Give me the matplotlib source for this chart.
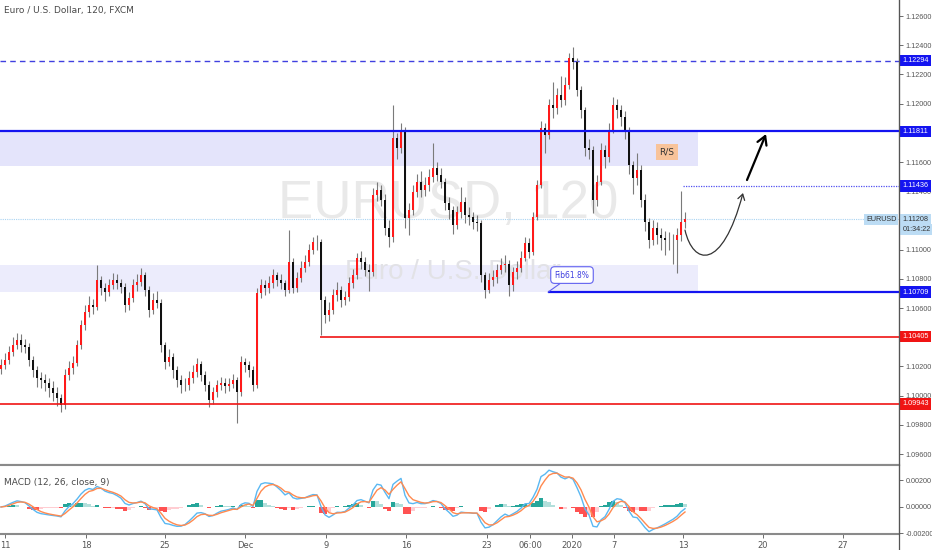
import matplotlib
matplotlib.use('Agg')
import matplotlib.pyplot as plt
import matplotlib.transforms as mtransforms
from matplotlib.patches import Rectangle, FancyArrowPatch
from matplotlib.path import Path
from matplotlib.lines import Line2D
import numpy as np
import pandas as pd

# EURUSD, 6h-ish candles
first_open = 1.10180
closes = [1.10209, 1.10244, 1.10298, 1.10346, 1.10381, 1.10346, 1.10333, 1.10244, 1.10175, 1.10120,
          1.10107, 1.10086, 1.10052, 1.10018, 1.09983, 1.09935, 1.10141, 1.10189, 1.10223, 1.10346,
          1.10483, 1.10572, 1.10620, 1.10607, 1.10792, 1.10737, 1.10709, 1.10757, 1.10792, 1.10771,
          1.10744, 1.10620, 1.10668, 1.10757, 1.10778, 1.10826, 1.10723, 1.10586, 1.10655, 1.10634,
          1.10346, 1.10230, 1.10264, 1.10175, 1.10107, 1.10072, 1.10072, 1.10120, 1.10161, 1.10216,
          1.10141, 1.10072, 1.09970, 1.10024, 1.10072, 1.10086, 1.10066, 1.10079, 1.10107, 1.10024,
          1.10230, 1.10209, 1.10175, 1.10072, 1.10703, 1.10757, 1.10737, 1.10771, 1.10826, 1.10792,
          1.10771, 1.10723, 1.10915, 1.10737, 1.10805, 1.10874, 1.10915, 1.10997, 1.11052, 1.11052,
          1.10655, 1.10552, 1.10586, 1.10689, 1.10723, 1.10655, 1.10675, 1.10771, 1.10826, 1.10942,
          1.10915, 1.10860, 1.10846, 1.11374, 1.11408, 1.11340, 1.11148, 1.11086, 1.11764, 1.11696,
          1.11819, 1.11216, 1.11271, 1.11394, 1.11463, 1.11408, 1.11442, 1.11497, 1.11559, 1.11511,
          1.11463, 1.11319, 1.11271, 1.11168, 1.11257, 1.11326, 1.11237, 1.11223, 1.11189, 1.11182,
          1.10826, 1.10723, 1.10792, 1.10812, 1.10860, 1.10894, 1.10901, 1.10757, 1.10846, 1.10874,
          1.10942, 1.11045, 1.10983, 1.11223, 1.11442, 1.11833, 1.11785, 1.11990, 1.11970, 1.12059,
          1.12025, 1.12127, 1.12312, 1.12285, 1.12093, 1.11956, 1.11696, 1.11682, 1.11340, 1.11463,
          1.11682, 1.11634, 1.11819, 1.11990, 1.11956, 1.11908, 1.11819, 1.11579, 1.11490, 1.11545,
          1.11340, 1.11189, 1.11066, 1.11148, 1.11100, 1.11079, 1.11066, 1.11066, 1.11066, 1.11100,
          1.11189, 1.11209]
highs = [1.10250, 1.10290, 1.10340, 1.10400, 1.10430, 1.10420, 1.10390, 1.10360, 1.10270, 1.10200,
         1.10160, 1.10150, 1.10120, 1.10100, 1.10060, 1.10010, 1.10180, 1.10240, 1.10270, 1.10380,
         1.10520, 1.10620, 1.10680, 1.10660, 1.10894, 1.10820, 1.10770, 1.10800, 1.10840, 1.10830,
         1.10800, 1.10770, 1.10710, 1.10800, 1.10830, 1.10874, 1.10850, 1.10750, 1.10700, 1.10720,
         1.10660, 1.10370, 1.10320, 1.10290, 1.10200, 1.10140, 1.10120, 1.10170, 1.10210, 1.10260,
         1.10240, 1.10170, 1.10100, 1.10060, 1.10110, 1.10130, 1.10120, 1.10120, 1.10150, 1.10130,
         1.10270, 1.10260, 1.10240, 1.10200, 1.10740, 1.10800, 1.10790, 1.10820, 1.10870, 1.10850,
         1.10830, 1.10790, 1.11134, 1.10940, 1.10850, 1.10920, 1.10960, 1.11040, 1.11090, 1.11100,
         1.11070, 1.10680, 1.10640, 1.10730, 1.10780, 1.10750, 1.10720, 1.10810, 1.10870, 1.10980,
         1.10990, 1.10950, 1.10900, 1.11420, 1.11460, 1.11440, 1.11380, 1.11200, 1.11990, 1.11800,
         1.11867, 1.11840, 1.11320, 1.11440, 1.11520, 1.11540, 1.11500, 1.11550, 1.11730, 1.11600,
         1.11560, 1.11490, 1.11360, 1.11300, 1.11300, 1.11430, 1.11360, 1.11290, 1.11260, 1.11240,
         1.11200, 1.10850, 1.10840, 1.10860, 1.10900, 1.10940, 1.10960, 1.10930, 1.10880, 1.10920,
         1.10990, 1.11090, 1.11080, 1.11260, 1.11480, 1.11880, 1.11870, 1.12030, 1.12150, 1.12110,
         1.12190, 1.12180, 1.12350, 1.12388, 1.12310, 1.12120, 1.11980, 1.11760, 1.11710, 1.11510,
         1.11730, 1.11720, 1.11870, 1.12045, 1.12030, 1.11990, 1.11950, 1.11840, 1.11610, 1.11660,
         1.11580, 1.11380, 1.11220, 1.11200, 1.11190, 1.11150, 1.11130, 1.11120, 1.11110, 1.11150,
         1.11401, 1.11260]
lows = [1.10150, 1.10180, 1.10220, 1.10270, 1.10320, 1.10300, 1.10290, 1.10200, 1.10130, 1.10060,
        1.10050, 1.10030, 1.09990, 1.09960, 1.09930, 1.09887, 1.09910, 1.10110, 1.10150, 1.10200,
        1.10320, 1.10450, 1.10540, 1.10560, 1.10590, 1.10690, 1.10650, 1.10680, 1.10730, 1.10730,
        1.10700, 1.10570, 1.10590, 1.10640, 1.10720, 1.10750, 1.10680, 1.10540, 1.10560, 1.10600,
        1.10300, 1.10180, 1.10200, 1.10120, 1.10060, 1.10020, 1.10030, 1.10040, 1.10090, 1.10130,
        1.10100, 1.10030, 1.09920, 1.09940, 1.09990, 1.10040, 1.10020, 1.10030, 1.10050, 1.09812,
        1.10000, 1.10160, 1.10130, 1.10030, 1.10050, 1.10670, 1.10690, 1.10700, 1.10740, 1.10750,
        1.10730, 1.10680, 1.10700, 1.10700, 1.10710, 1.10780, 1.10850, 1.10890, 1.10970, 1.11000,
        1.10415, 1.10500, 1.10510, 1.10560, 1.10650, 1.10610, 1.10620, 1.10650, 1.10740, 1.10800,
        1.10870, 1.10820, 1.10720, 1.10820, 1.11330, 1.11300, 1.11100, 1.11018, 1.11050, 1.11620,
        1.11660, 1.11150, 1.11100, 1.11240, 1.11360, 1.11360, 1.11370, 1.11400, 1.11460, 1.11470,
        1.11420, 1.11270, 1.11210, 1.11110, 1.11140, 1.11220, 1.11180, 1.11170, 1.11140, 1.11130,
        1.10780, 1.10668, 1.10700, 1.10750, 1.10770, 1.10830, 1.10850, 1.10680, 1.10720, 1.10800,
        1.10850, 1.10920, 1.10940, 1.10960, 1.11200, 1.11420, 1.11660, 1.11760, 1.11900, 1.11930,
        1.11980, 1.11990, 1.12100, 1.12240, 1.12050, 1.11900, 1.11640, 1.11620, 1.11250, 1.11300,
        1.11440, 1.11560, 1.11600, 1.11800, 1.11900, 1.11850, 1.11760, 1.11520, 1.11380, 1.11440,
        1.11290, 1.11130, 1.11010, 1.11030, 1.11040, 1.11000, 1.10960, 1.11000, 1.10900, 1.10840,
        1.11060, 1.11150]

date_labels = ['11', '18', '25', 'Dec', '9', '16', '23', '06:00', '2020', '7', '13', '20', '27']
date_pos = [1, 21.25, 41, 61, 81.25, 101.25, 121.5, 132.25, 142.75, 153.25, 170.5, 190.5, 210.5]
price_ticks = [1.096, 1.098, 1.100, 1.102, 1.104, 1.106, 1.108, 1.110, 1.112, 1.114,
               1.116, 1.118, 1.120, 1.122, 1.124, 1.126]
hidden_ticks = [1.104, 1.112, 1.118]  # covered by the price tags
macd_ticks = [-0.002, 0.0, 0.002]

# drawn levels
top_level = 1.12294
res_level = 1.11811
res_zone_low = 1.11573
target_level = 1.11436
last_price = 1.11208
fib_zone_top = 1.10894
fib_level = 1.10709
sup1 = 1.10405
sup2 = 1.09943

BLUE = '#1414f0'
RED = '#f01414'
GREY_TXT = '#4a4a4a'
AXFONT = 'Liberation Sans'

opens = [first_open] + closes[:-1]
n = len(closes)
x = np.arange(n)

fig = plt.figure(figsize=(9.32, 5.5), dpi=100)
ax = fig.add_axes([0, 0.15455, 899 / 932, 1 - 0.15455])
axm = fig.add_axes([0, 0.02909, 899 / 932, 0.15455 - 0.02909], sharex=ax)

# zones and levels
ax.add_patch(Rectangle((-0.25, res_zone_low), 174.5, res_level - res_zone_low,
                       fc='#e4e4fb', ec='none', zorder=0))
ax.add_patch(Rectangle((-0.25, fib_level), 174.5, fib_zone_top - fib_level,
                       fc='#ececfc', ec='none', zorder=0))
ax.axhline(top_level, color='#4040e0', lw=1, ls=(0, (4, 3)), zorder=1)
ax.axhline(res_level, color=BLUE, lw=1.6, zorder=3)
ax.hlines(target_level, 170.5, 224.5, color='#5050f0', lw=0.9, ls=(0, (1, 1)), zorder=1)
ax.axhline(last_price, color='#a9d3f2', lw=0.8, ls=(0, (1, 1)), zorder=1)
ax.hlines(fib_level, 136.75, 224.5, color=BLUE, lw=1.6, zorder=3)
ax.hlines(sup1, 79.75, 224.5, color=RED, lw=1.2, zorder=3)
ax.axhline(sup2, color=RED, lw=1.2, zorder=3)

# watermark
ax.text(111.75, 1.11312, 'EURUSD, 120', fontsize=38, family='Liberation Sans',
        color='#e9e9e9', ha='center', va='center', zorder=0.5)
ax.text(113, 1.10846, 'Euro / U.S. Dollar', fontsize=20, family='Liberation Sans',
        color='#e2e2e6', ha='center', va='center', zorder=0.5)

# candles
up = np.array(closes) >= np.array(opens)
ax.vlines(x, lows, highs, color='#7a7a7a', lw=0.8, zorder=2)
body_lo = np.minimum(opens, closes)
body_h = np.maximum(np.abs(np.array(closes) - np.array(opens)), 0.00003)
ax.bar(x, body_h, bottom=body_lo, width=0.65,
       color=np.where(up, '#ff1a1a', '#111111'), zorder=2.5, linewidth=0)

ax.set_xlim(-0.25, 224.5)
ax.set_ylim(1.09525, 1.12710)

# annotations
ax.text(166.5, 1.11668, 'R/S', fontsize=6.5, color='#333333', ha='center', va='center',
        bbox=dict(boxstyle='square,pad=0.35', fc='#f8c39a', ec='none'), zorder=4)
ax.annotate('Fib61.8%', xy=(136.75, fib_level), xytext=(142.75, 1.10826),
            fontsize=5.5, color='#4040e0', ha='center', va='center',
            bbox=dict(boxstyle='round,pad=0.5', fc='white', ec='#6060f0', lw=0.8),
            arrowprops=dict(arrowstyle='-', color='#6060f0', lw=0.8, shrinkA=0, shrinkB=0),
            zorder=4)

curve = Path([(171.0, 1.11134), (173.0, 1.10894), (180.25, 1.10846), (185.5, 1.11388)],
             [Path.MOVETO, Path.CURVE4, Path.CURVE4, Path.CURVE4])
ax.add_patch(FancyArrowPatch(path=curve, arrowstyle='->,head_length=4,head_width=2.5',
                             color='#333333', lw=0.9, zorder=4))
ax.annotate('', xy=(191.25, 1.11792), xytext=(186.5, 1.11477),
            arrowprops=dict(arrowstyle='->,head_length=0.6,head_width=0.35',
                            color='black', lw=1.6, shrinkA=0, shrinkB=0), zorder=4)

# price axis
ax.yaxis.tick_right()
ax.set_yticks(price_ticks)
ax.set_yticklabels(['' if v in hidden_ticks else '%.5f' % v for v in price_ticks],
                   family=AXFONT)
ax.tick_params(axis='y', labelsize=5.2, colors='#555555', length=3, pad=1.5, width=0.6)
ax.tick_params(axis='x', bottom=False, labelbottom=False)
for s in ['left', 'top']:
    ax.spines[s].set_visible(False)
ax.spines['right'].set_color('#555555')
ax.spines['bottom'].set_color('#8a8a8a')
ax.spines['bottom'].set_linewidth(1.5)

trans = mtransforms.blended_transform_factory(ax.transAxes, ax.transData)
for val, fc, tc in [(top_level, BLUE, 'white'), (res_level, BLUE, 'white'),
                    (target_level, BLUE, 'white'), (last_price, '#bcdcf4', '#333333'),
                    (fib_level, BLUE, 'white'), (sup1, RED, 'white'), (sup2, RED, 'white')]:
    ax.text(1.004, val, '%.5f' % val, transform=trans, fontsize=5.2, color=tc,
            family=AXFONT, ha='left', va='center', clip_on=False, zorder=6,
            bbox=dict(boxstyle='square,pad=0.3', fc=fc, ec='none'))
ax.text(1.004, last_price - 0.00068, '01:34:22', transform=trans, fontsize=5.2,
        color='#333333', family=AXFONT, ha='left', va='center', clip_on=False, zorder=6,
        bbox=dict(boxstyle='square,pad=0.3', fc='#bcdcf4', ec='none'))
ax.text(0.997, last_price, 'EURUSD', transform=trans, fontsize=5.2, color='#333333',
        family=AXFONT, ha='right', va='center', zorder=6,
        bbox=dict(boxstyle='square,pad=0.3', fc='#bcdcf4', ec='none'))

fig.text(4 / 932, 1 - 10 / 550, 'Euro / U.S. Dollar, 120, FXCM', fontsize=6.5,
         color=GREY_TXT, ha='left', va='center')

# MACD pane
s = pd.Series(closes)
macd = s.ewm(span=4, adjust=False).mean() - s.ewm(span=9, adjust=False).mean()
signal = macd.ewm(span=3, adjust=False).mean()
hist = (macd - signal).values
hcol = []
for i, h in enumerate(hist):
    prev = hist[i - 1] if i > 0 else 0
    if h >= 0:
        hcol.append('#26a69a' if h >= prev else '#b2dfdb')
    else:
        hcol.append('#ff5252' if h <= prev else '#ffcdd2')
axm.bar(x, hist, width=0.8, color=hcol, linewidth=0, zorder=1)
axm.plot(x, macd.values, color='#5ab8f2', lw=1, zorder=2)
axm.plot(x, signal.values, color='#ff8a50', lw=1, zorder=3)
axm.set_ylim(-0.00204, 0.00317)
axm.yaxis.tick_right()
axm.set_yticks(macd_ticks)
axm.set_yticklabels(['%.5f' % v for v in macd_ticks], family=AXFONT)
axm.tick_params(axis='y', labelsize=5.2, colors='#555555', length=3, pad=1.5, width=0.6)
axm.set_xticks(date_pos)
axm.set_xticklabels(date_labels)
axm.tick_params(axis='x', labelsize=6, colors='#555555', length=3, pad=2, width=0.6)
axm.spines['left'].set_visible(False)
axm.spines['right'].set_color('#555555')
for sp in ['top', 'bottom']:
    axm.spines[sp].set_color('#8a8a8a')
    axm.spines[sp].set_linewidth(1.5)
axm.text(4 / 899, 0.74, 'MACD (12, 26, close, 9)', transform=axm.transAxes, fontsize=6.5,
         color=GREY_TXT, ha='left', va='center')

fig.add_artist(Line2D([899 / 932, 899 / 932], [0, 1], color='#555555', lw=0.9))

fig.savefig('out.png', dpi=100)
